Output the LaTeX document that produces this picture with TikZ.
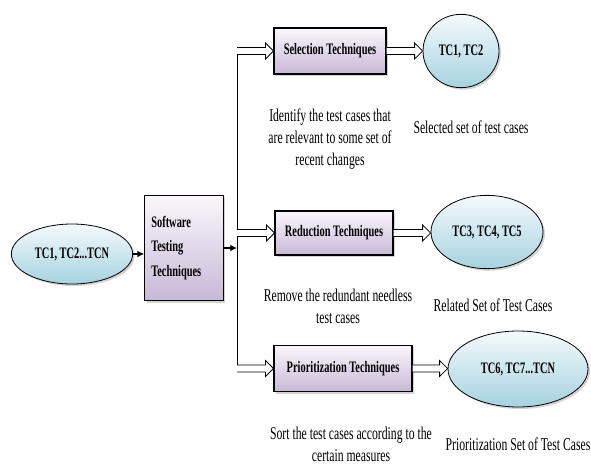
\documentclass[tikz,border=0pt]{standalone}
\usepackage{fontspec}
\setmainfont{Liberation Serif}[FakeStretch=0.65]
\usetikzlibrary{arrows.meta,shapes.geometric,shadows,calc}
\definecolor{BoxTopClr}{RGB}{250,247,252}
\definecolor{BoxBotClr}{RGB}{200,184,214}
\definecolor{EllTopClr}{RGB}{244,250,252}
\definecolor{EllBotClr}{RGB}{166,210,224}

\begin{document}
\begin{tikzpicture}[x=0.75pt,y=-0.75pt,
  techbox/.style={draw,line width=0.8pt,top color=BoxTopClr,bottom color=BoxBotClr,
    drop shadow={opacity=0.35,shadow xshift=1.5pt,shadow yshift=-1.5pt},
    font=\bfseries\fontsize{12}{14}\selectfont,inner sep=2pt},
  caseset/.style={ellipse,draw,line width=0.6pt,top color=EllTopClr,bottom color=EllBotClr,
    drop shadow={opacity=0.35,shadow xshift=1.5pt,shadow yshift=-1.5pt},
    font=\bfseries\fontsize{12}{14}\selectfont,inner sep=0pt},
  note/.style={align=center,font=\fontsize{13.5}{16.5}\selectfont},
  flow/.style={line width=0.8pt,-{Latex[length=5pt,width=5pt]}},
  hollow/.style={draw,line width=0.6pt,fill=white,line join=miter,to path={
    ($(\tikztostart)+(0pt,2.6pt)$) -- ($(\tikztotarget)+(-6pt,2.6pt)$)
    -- ($(\tikztotarget)+(-6pt,6pt)$) -- (\tikztotarget)
    -- ($(\tikztotarget)+(-6pt,-6pt)$) -- ($(\tikztotarget)+(-6pt,-2.6pt)$)
    -- ($(\tikztostart)+(0pt,-2.6pt)$)}}]
\useasboundingbox (0,0) rectangle (591,467);

% inputs and main box
\node[caseset,minimum width=91pt,minimum height=45pt] (tcin) at (72,254) {TC1, TC2...TCN};
\node[techbox,minimum height=79pt,text width=49pt,inner xsep=5pt,align=left,
  font=\bfseries\fontsize{12}{18.5}\selectfont] (stt) at (184,248) {Software\\Testing\\Techniques};

% techniques
\node[techbox,minimum width=84pt,minimum height=34.5pt] (sel) at (330,51) {Selection Techniques};
\node[techbox,minimum width=88.5pt,minimum height=33pt] (red) at (334,233) {Reduction Techniques};
\node[techbox,minimum width=103.5pt,minimum height=35pt] (pri) at (343,368.5) {Prioritization Techniques};

% resulting sets
\node[caseset,minimum width=57pt,minimum height=55pt] (tcA) at (461,51) {TC1, TC2};
\node[caseset,minimum width=84pt,minimum height=55pt] (tcB) at (487,232) {TC3, TC4, TC5};
\node[caseset,minimum width=105pt,minimum height=57pt] (tcC) at (518,369) {TC6, TC7...TCN};

% notes
\node[note] (selnote) at (330,139) {Identify the test cases that\\are relevant to some set of\\recent changes};
\node[note] (tcAnote) at (471,127) {Selected set of test cases};
\node[note] (rednote) at (338,306) {Remove the redundant needless\\test cases};
\node[note] (tcBnote) at (493,305) {Related Set of Test Cases};
\node[note] (prinote) at (351,444) {Sort the test cases according to the\\certain measures};
\node[note] (tcCnote) at (518,444) {Prioritization Set of Test Cases};

% connectors
\coordinate (bustop) at (237,51);
\coordinate (busbot) at (237,368.5);
\draw[line width=0.6pt] (bustop) -- (busbot);
\draw[flow] (tcin.east) -- (tcin.east -| stt.west);
\draw[flow] (stt.east) -- (stt.east -| bustop);
\path[hollow] (sel.west -| bustop) to (sel.west);
\path[hollow] (red.west -| bustop) to (red.west);
\path[hollow] (pri.west -| bustop) to (pri.west);
\path[hollow] (sel.east) to (tcA.west);
\path[hollow] (red.east) to (red.east -| tcB.west);
\path[hollow] (pri.east) to (pri.east -| tcC.west);
\end{tikzpicture}
\end{document}
